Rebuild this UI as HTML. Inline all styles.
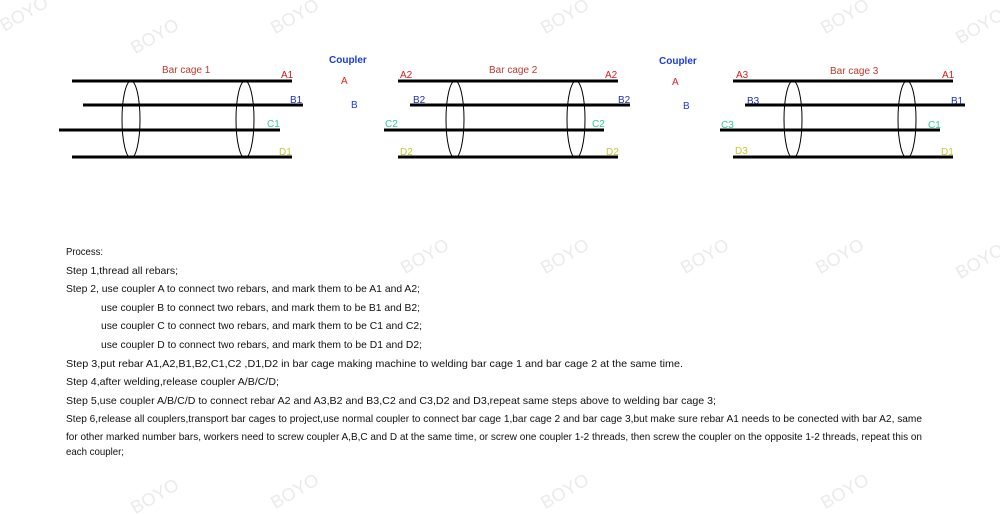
<!DOCTYPE html>
<html><head><style>html,body{margin:0;padding:0;background:#fff}svg{display:block}</style></head>
<body>
<svg width="1000" height="515" xmlns="http://www.w3.org/2000/svg" font-family="Liberation Sans, sans-serif">
<g fill="#ddd" font-size="18" opacity="0.6">
<text x="0" y="25" transform="rotate(-30 15 20)">BOYO</text>
<text x="130" y="45" transform="rotate(-30 150 40)">BOYO</text>
<text x="270" y="25" transform="rotate(-30 290 20)">BOYO</text>
<text x="540" y="25" transform="rotate(-30 560 20)">BOYO</text>
<text x="820" y="25" transform="rotate(-30 840 20)">BOYO</text>
<text x="955" y="35" transform="rotate(-30 975 30)">BOYO</text>
<text x="400" y="265" transform="rotate(-30 420 260)">BOYO</text>
<text x="540" y="265" transform="rotate(-30 560 260)">BOYO</text>
<text x="680" y="265" transform="rotate(-30 700 260)">BOYO</text>
<text x="815" y="265" transform="rotate(-30 835 260)">BOYO</text>
<text x="955" y="270" transform="rotate(-30 975 265)">BOYO</text>
<text x="130" y="505" transform="rotate(-30 150 500)">BOYO</text>
<text x="270" y="500" transform="rotate(-30 290 495)">BOYO</text>
<text x="540" y="500" transform="rotate(-30 560 495)">BOYO</text>
<text x="820" y="500" transform="rotate(-30 840 495)">BOYO</text>
</g>
<g stroke="#000" stroke-width="3">
<line x1="72" y1="81" x2="292" y2="81"/><line x1="83" y1="105" x2="303" y2="105"/><line x1="59" y1="130" x2="280" y2="130"/><line x1="72" y1="157" x2="292" y2="157"/>
<line x1="398" y1="81" x2="618" y2="81"/><line x1="410" y1="105" x2="630" y2="105"/><line x1="384" y1="130" x2="604" y2="130"/><line x1="398" y1="157" x2="618" y2="157"/>
<line x1="733" y1="81" x2="953" y2="81"/><line x1="745" y1="105" x2="965" y2="105"/><line x1="720" y1="130" x2="940" y2="130"/><line x1="733" y1="157" x2="953" y2="157"/>
</g>
<g stroke="#000" stroke-width="1" fill="none">
<ellipse cx="131" cy="119.5" rx="9" ry="38.5"/><ellipse cx="245" cy="119.5" rx="9" ry="38.5"/>
<ellipse cx="455" cy="119.5" rx="9" ry="38.5"/><ellipse cx="576" cy="119.5" rx="9" ry="38.5"/>
<ellipse cx="793" cy="119.5" rx="9" ry="38.5"/><ellipse cx="907" cy="119.5" rx="9" ry="38.5"/>
</g>
<g font-size="10">
<text x="162" y="73" fill="#c0392b">Bar cage 1</text>
<text x="489" y="73" fill="#c0392b">Bar cage 2</text>
<text x="830" y="74" fill="#c0392b">Bar cage 3</text>
<g fill="#d62020"><text x="281" y="78">A1</text><text x="400" y="78">A2</text><text x="605" y="78">A2</text><text x="736" y="78">A3</text><text x="942" y="78">A1</text></g>
<g fill="#2030b0"><text x="290" y="103">B1</text><text x="413" y="103">B2</text><text x="618" y="103">B2</text><text x="747" y="104">B3</text><text x="951" y="104">B1</text></g>
<g fill="#2ecc9a"><text x="267" y="127">C1</text><text x="385" y="127">C2</text><text x="592" y="127">C2</text><text x="721" y="128">C3</text><text x="928" y="128">C1</text></g>
<g fill="#c8c830"><text x="279" y="155">D1</text><text x="400" y="155">D2</text><text x="606" y="155">D2</text><text x="735" y="154">D3</text><text x="941" y="155">D1</text></g>
<text x="329" y="63" fill="#1a3adf" font-weight="bold">Coupler</text>
<text x="341" y="84" fill="#e02020">A</text>
<text x="351" y="108" fill="#1a3adf">B</text>
<text x="659" y="64" fill="#1a3adf" font-weight="bold">Coupler</text>
<text x="672" y="85" fill="#e02020">A</text>
<text x="683" y="109" fill="#1a3adf">B</text>
</g>
<g font-size="10.5" fill="#111" lengthAdjust="spacingAndGlyphs">
<text x="66" y="255" textLength="37" lengthAdjust="spacingAndGlyphs">Process:</text>
<text x="66" y="274" textLength="112" lengthAdjust="spacingAndGlyphs">Step  1,thread  all  rebars;</text>
<text x="66" y="292" textLength="354" lengthAdjust="spacingAndGlyphs">Step 2, use  coupler  A  to  connect  two  rebars, and  mark  them  to  be  A1  and  A2;</text>
<text x="101" y="311" textLength="319" lengthAdjust="spacingAndGlyphs">use  coupler  B  to  connect  two  rebars, and  mark  them  to  be  B1  and  B2;</text>
<text x="101" y="329" textLength="321" lengthAdjust="spacingAndGlyphs">use  coupler  C  to  connect  two  rebars, and  mark  them  to  be  C1  and  C2;</text>
<text x="101" y="348" textLength="321" lengthAdjust="spacingAndGlyphs">use  coupler  D  to  connect  two  rebars, and  mark  them  to  be  D1  and  D2;</text>
<text x="66" y="367" textLength="617" lengthAdjust="spacingAndGlyphs">Step  3,put  rebar  A1,A2,B1,B2,C1,C2  ,D1,D2  in  bar  cage  making  machine  to  welding  bar  cage  1  and  bar  cage  2  at  the  same  time.</text>
<text x="66" y="385" textLength="213" lengthAdjust="spacingAndGlyphs">Step  4,after  welding,release  coupler  A/B/C/D;</text>
<text x="66" y="404" textLength="650" lengthAdjust="spacingAndGlyphs">Step  5,use  coupler  A/B/C/D  to  connect  rebar  A2  and  A3,B2  and  B3,C2  and  C3,D2  and  D3,repeat  same  steps  above  to  welding  bar  cage  3;</text>
<text x="66" y="422" textLength="856" lengthAdjust="spacingAndGlyphs">Step  6,release  all  couplers,transport  bar cages to project,use normal coupler to connect bar cage 1,bar cage 2 and bar cage 3,but make sure rebar A1 needs to be conected with bar A2,   same</text>
<text x="66" y="440" textLength="856" lengthAdjust="spacingAndGlyphs">for  other  marked number bars, workers need to screw coupler A,B,C and D at the same time, or screw one coupler 1-2 threads, then screw the coupler on the opposite 1-2 threads, repeat this on</text>
<text x="66" y="455" textLength="58" lengthAdjust="spacingAndGlyphs">each coupler;</text>
</g>
</svg>
</body></html>
